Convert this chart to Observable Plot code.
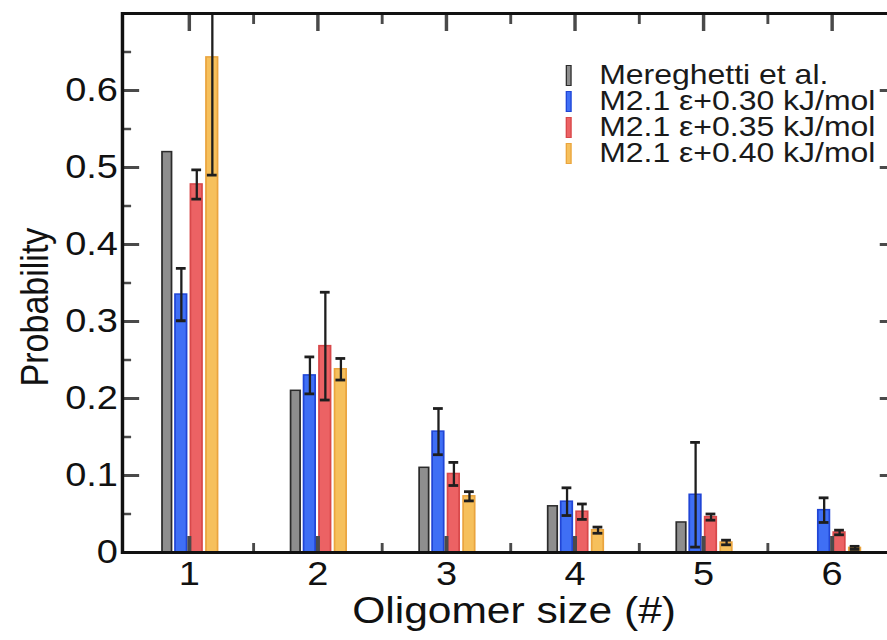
<!DOCTYPE html>
<html>
<head>
<meta charset="utf-8">
<script src="https://cdn.jsdelivr.net/npm/d3@7"></script>
<script src="https://cdn.jsdelivr.net/npm/@observablehq/plot@0.6"></script>
<style>
  html, body { margin: 0; padding: 0; background: #fff; }
  #wrap { width: 887px; height: 640px; overflow: hidden; position: relative; background: #fff; }
  #chart { position: absolute; left: 0; top: 0; width: 780px; height: 640px; transform: scaleX(1.15); transform-origin: 0 0; }
  #legend { position: absolute; left: 489px; top: 62px; font-family: 'Liberation Sans', Arial, sans-serif; font-size: 27.8px; color: #1a1a1a; }
  .row { display: flex; align-items: center; height: 26px; white-space: nowrap; }
  .row .lab { display: inline-block; height: 24px; line-height: 24px; overflow: visible; }
  .sw { width: 3px; height: 19px; border: 1.5px solid; margin-right: 24px; margin-left: 3px; }
  #ytitle { position: absolute; left: 30px; top: 307px; width: 0; height: 0; }
  #ytitle span { position: absolute; left: 0; top: 0; transform-origin: 0 0; transform: rotate(-90deg) translate(-50%, -50%);
    font-family: 'Liberation Sans', Arial, sans-serif; font-size: 34px; line-height: 34px; white-space: nowrap; color: #111; }
</style>
</head>
<body>
<div id="wrap"><div id="chart"></div></div>
<script>
// ---- data ----
const sizes = [1, 2, 3, 4, 5, 6];
const seriesNames = ["Mereghetti et al.", "M2.1 ε+0.30 kJ/mol", "M2.1 ε+0.35 kJ/mol", "M2.1 ε+0.40 kJ/mol"];
const mereghetti = [0.52, 0.21, 0.11, 0.06, 0.039, null];
const eps030 = [0.335, 0.23, 0.157, 0.066, 0.075, 0.055];
const eps030Err = [0.034, 0.024, 0.03, 0.018, 0.068, 0.016];
const eps035 = [0.478, 0.268, 0.102, 0.053, 0.046, 0.026];
const eps035Err = [0.019, 0.07, 0.015, 0.01, 0.004, 0.003];
const eps040 = [0.643, 0.238, 0.073, 0.029, 0.013, 0.006];
const eps040Err = [0.153, 0.014, 0.006, 0.004, 0.003, 0.002];
const xTicks = [1, 2, 3, 4, 5, 6];
const xMinorTicks = [1.5, 2.5, 3.5, 4.5, 5.5];
const yTicks = [0, 0.1, 0.2, 0.3, 0.4, 0.5, 0.6];
const yMinorTicks = [0.05, 0.15, 0.25, 0.35, 0.45, 0.55, 0.65];
const xTitle = "Oligomer size (#)";
const yTitle = "Probability";

// ---- styles ----
const fills = ["#8e8e8e", "#3f6ff5", "#ec6264", "#f6c05c"];
const strokes = ["#2b2b2b", "#2045d6", "#d8484a", "#eaa43e"];
const offsets = [-0.171, -0.062, 0.058, 0.179];
const halfW = [0.037, 0.045, 0.045, 0.045];
const capHalf = 0.038;

const values = [mereghetti, eps030, eps035, eps040];
const errors = [null, eps030Err, eps035Err, eps040Err];
const rows = [];
values.forEach((vals, k) => sizes.forEach((s, i) => {
  if (vals[i] == null) return;
  rows.push({size: s, k, series: seriesNames[k], value: vals[i], err: errors[k] ? errors[k][i] : null});
}));
const errRows = rows.filter(d => d.err != null);
const caps = errRows.flatMap(d => [{...d, y: d.value - d.err}, {...d, y: d.value + d.err}]);
const cx = d => d.size + offsets[d.k];

const font = "'Liberation Sans', Arial, sans-serif";
const tickStroke = "#4a4a4a";

const chart = Plot.plot({
  width: 780, height: 640,
  marginLeft: 106, marginRight: 1, marginTop: 13, marginBottom: 88,
  x: {domain: [0.48, 6.5]},
  y: {domain: [0, 0.7]},
  color: {type: "identity"},
  style: {fontFamily: font, color: "#111", background: "white", overflow: "visible"},
  marks: [
    Plot.rectY(rows, {x1: d => cx(d) - halfW[d.k], x2: d => cx(d) + halfW[d.k], y1: 0, y2: "value",
      fill: d => fills[d.k], stroke: d => strokes[d.k], strokeWidth: 1.5}),
    Plot.ruleX(errRows, {x: cx, y1: d => d.value - d.err, y2: d => d.value + d.err, stroke: "#1e1e1e", strokeWidth: 2, clip: true}),
    Plot.ruleY(caps, {y: "y", x1: d => cx(d) - capHalf, x2: d => cx(d) + capHalf, stroke: "#1e1e1e", strokeWidth: 2.8, clip: true}),
    // inward ticks
    Plot.axisX({ticks: xTicks, anchor: "bottom", tickSize: -16, fill: "none", stroke: tickStroke, strokeWidth: 3.5, label: null}),
    Plot.axisX({ticks: xMinorTicks, anchor: "bottom", tickSize: -9, fill: "none", stroke: tickStroke, strokeWidth: 2.5, label: null}),
    Plot.axisX({ticks: xTicks, anchor: "top", tickSize: -17, fill: "none", stroke: tickStroke, strokeWidth: 3, label: null}),
    Plot.axisX({ticks: xMinorTicks, anchor: "top", tickSize: -10, fill: "none", stroke: tickStroke, strokeWidth: 2.5, label: null}),
    Plot.axisY({ticks: yTicks, anchor: "left", tickSize: -15, fill: "none", stroke: tickStroke, strokeWidth: 3, label: null}),
    Plot.axisY({ticks: yMinorTicks, anchor: "left", tickSize: -8, fill: "none", stroke: tickStroke, strokeWidth: 2.5, label: null}),
    Plot.axisY({ticks: yTicks, anchor: "right", tickSize: -15, fill: "none", stroke: tickStroke, strokeWidth: 3, label: null}),
    Plot.axisY({ticks: yMinorTicks, anchor: "right", tickSize: -8, fill: "none", stroke: tickStroke, strokeWidth: 2.5, label: null}),
    // tick labels
    Plot.axisX({ticks: xTicks, anchor: "bottom", tickSize: 0, tickPadding: 9, fontSize: 33, tickFormat: d => `${d}`, label: null, fill: "#111"}),
    Plot.axisY({ticks: yTicks, anchor: "left", tickSize: 0, tickPadding: 4, fontSize: 33, tickFormat: d => `${d}`, label: null, fill: "#111"}),
    Plot.frame({stroke: "#111", strokeWidth: 3}),
    // x axis title
    Plot.text([xTitle], {text: d => d, frameAnchor: "bottom", dx: 4, dy: 70, fontSize: 37, fill: "#111"})
  ]
});
const holder = document.getElementById("chart");
holder.appendChild(chart);

// y axis title
const yt = document.createElement("div");
yt.id = "ytitle";
const ys = document.createElement("span");
ys.textContent = yTitle;
yt.appendChild(ys);
holder.appendChild(yt);

// legend
const legend = document.createElement("div");
legend.id = "legend";
seriesNames.forEach((name, k) => {
  const row = document.createElement("div");
  row.className = "row";
  const sw = document.createElement("span");
  sw.className = "sw";
  sw.style.background = fills[k];
  sw.style.borderColor = strokes[k];
  const t = document.createElement("span");
  t.className = "lab";
  t.textContent = name;
  row.appendChild(sw); row.appendChild(t);
  legend.appendChild(row);
});
holder.appendChild(legend);
</script>
</body>
</html>
